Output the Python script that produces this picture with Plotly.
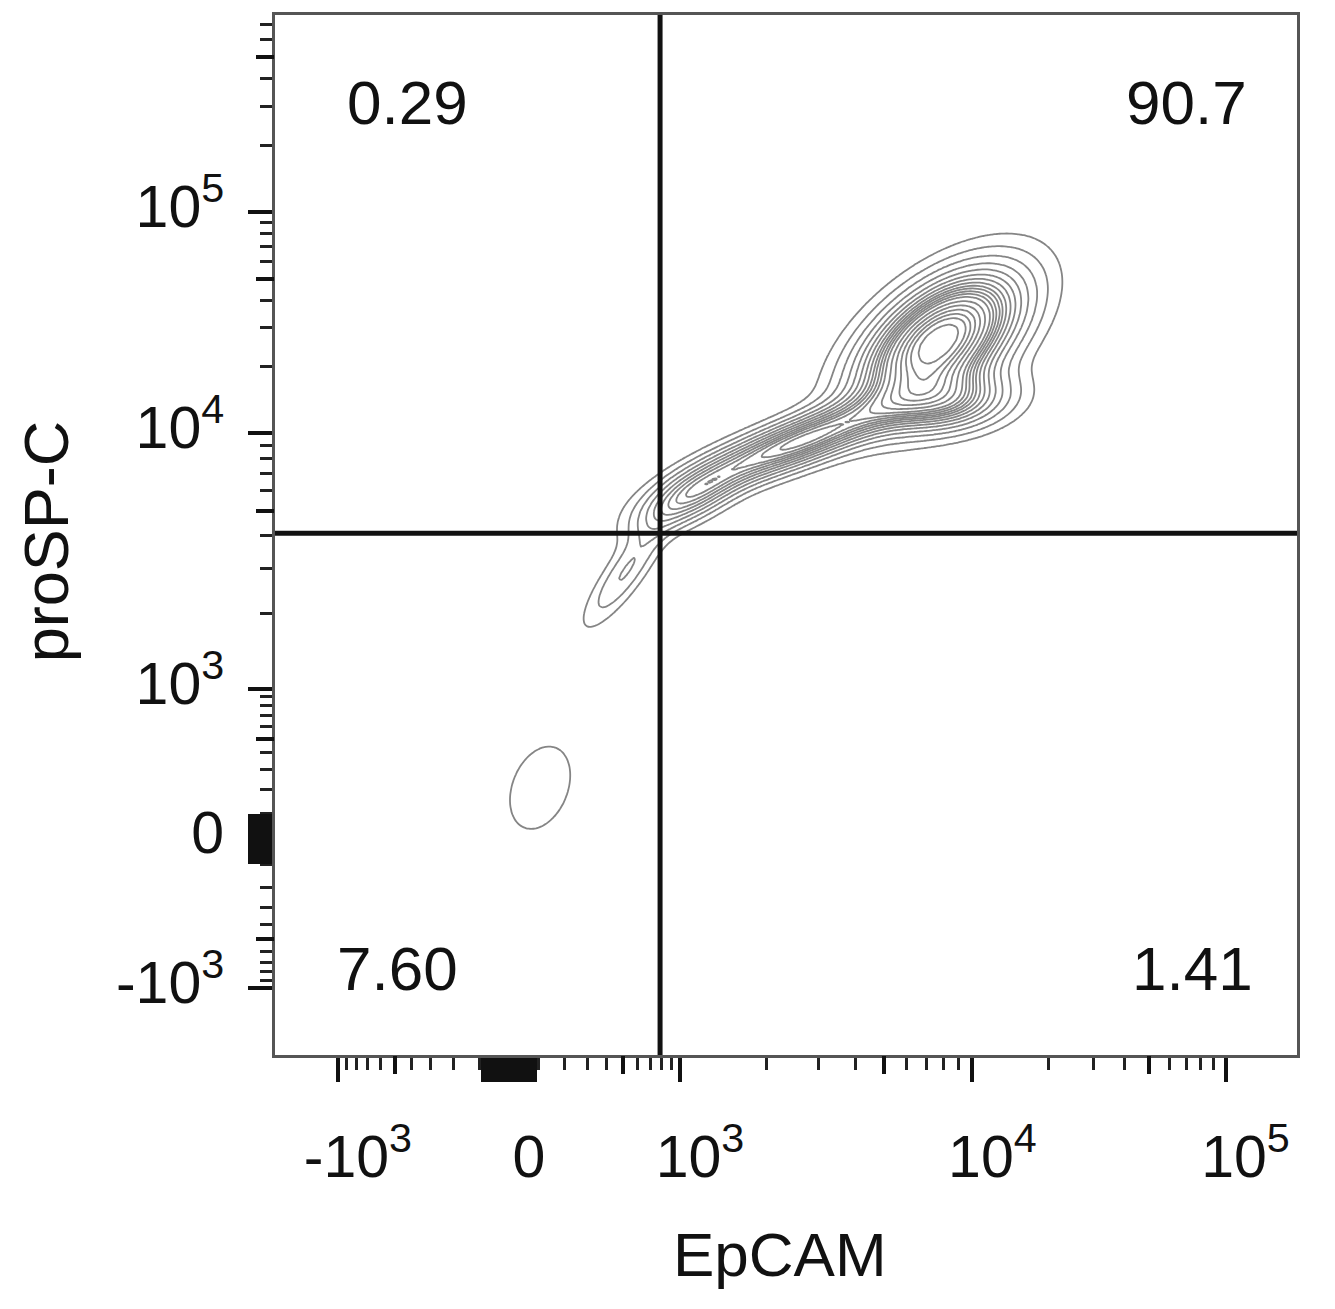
import numpy as np
import plotly.graph_objects as go

# biexponential display scale (asinh core, calibrated at the decade ticks)
SCALE_VALS = np.array([-1e3, 0, 1e3, 1e4, 1e5, 1e6])
SCALE_POS = np.array([-1.0, 0.0, 1.0, 2.71, 4.19, 5.67])
LIN_WIDTH = 300.0


def biex(v):
    v = np.asarray(v, dtype=float)
    return np.interp(np.arcsinh(v / LIN_WIDTH), np.arcsinh(SCALE_VALS / LIN_WIDTH), SCALE_POS)


# populations (centre in fluorescence units, spread in display units)
epcam_center = [7700, 8400, 2570, 1080, 513, 107]
prospc_center = [26000, 13900, 9260, 5650, 2890, 210]
spread_x = [0.29, 0.23, 0.40, 0.20, 0.16, 0.16]
spread_y = [0.29, 0.13, 0.20, 0.15, 0.24, 0.25]
corr = [0.55, 0.2, 0.85, 0.7, 0.85, 0.3]
weight = [0.60, 0.10, 0.20, 0.06, 0.025, 0.027]

# quadrant gate and frequencies
epcam_gate = 790
prospc_gate = 4100
quad_labels = ["0.29", "90.7", "7.60", "1.41"]

major_vals = [-1e3, 0, 1e3, 1e4, 1e5]
major_text = ["-10<sup>3</sup>", "0", "10<sup>3</sup>", "10<sup>4</sup>", "10<sup>5</sup>"]
near_zero = [s * k for s in (-1, 1) for k in range(10, 100, 10)]
mid_vals = [-500, 500, 5e3, 5e4, 5e5]
minor_vals = ([s * k for s in (-1, 1) for k in range(100, 1000, 100) if k != 500]
              + [k * 1e3 for k in range(2, 10) if k != 5]
              + [k * 1e4 for k in range(2, 10) if k != 5]
              + [k * 1e5 for k in range(2, 10) if k != 5])

x_range = [-1.368, 4.608]
y_range = [-1.447, 5.507]

gx = np.linspace(x_range[0], x_range[1], 420)
gy = np.linspace(y_range[0], y_range[1], 420)
X, Y = np.meshgrid(gx, gy)
dens = np.zeros_like(X)
for mx, my, sx, sy, r, w in zip(biex(epcam_center), biex(prospc_center), spread_x, spread_y, corr, weight):
    u = (X - mx) / sx
    v = (Y - my) / sy
    q = (u * u - 2 * r * u * v + v * v) / (1 - r * r)
    dens += w / (2 * np.pi * sx * sy * np.sqrt(1 - r * r)) * np.exp(-q / 2)

# probability contours: fraction of events inside each level
flat = dens.ravel()
order = np.argsort(-flat)
enclosed = np.empty_like(flat)
enclosed[order] = np.cumsum(flat[order]) / flat.sum()
Z = enclosed.reshape(dens.shape)

fig = go.Figure()
fig.add_trace(go.Contour(
    x=gx, y=gy, z=Z,
    contours=dict(coloring="lines", start=0.05, end=0.95, size=0.05),
    colorscale=[[0, "#858585"], [1, "#858585"]],
    line=dict(width=1.8),
    showscale=False,
    hoverinfo="skip",
))
fig.add_trace(go.Scatter(x=[None], y=[None], xaxis="x2", yaxis="y2", showlegend=False, hoverinfo="skip"))

gx0 = float(biex(epcam_gate))
gy0 = float(biex(prospc_gate))
fig.add_shape(type="line", x0=gx0, x1=gx0, y0=y_range[0], y1=y_range[1], line=dict(color="#111", width=5))
fig.add_shape(type="line", x0=x_range[0], x1=x_range[1], y0=gy0, y1=gy0, line=dict(color="#111", width=5))

quad_pos = [(0.130, 0.916), (0.892, 0.916), (0.120, 0.083), (0.898, 0.083)]
for txt, (px, py) in zip(quad_labels, quad_pos):
    fig.add_annotation(x=px, y=py, xref="paper", yref="paper", text=txt, showarrow=False,
                       xanchor="center", yanchor="middle", font=dict(size=62, color="#111"))

# axis titles
fig.add_annotation(x=0.494, y=-0.192, xref="paper", yref="paper", text="EpCAM", showarrow=False,
                   xanchor="center", yanchor="middle", font=dict(size=62, color="#111"))
fig.add_annotation(x=-0.224, y=0.494, xref="paper", yref="paper", text="proSP-C", showarrow=False,
                   textangle=-90, xanchor="center", yanchor="middle", font=dict(size=63, color="#111"))

font = "Liberation Sans, Arial, sans-serif"
axis_common = dict(
    showgrid=False, zeroline=False, showline=True, linecolor="#555", linewidth=3, mirror=True,
    ticks="outside", ticklen=24, tickwidth=4, tickcolor="#111",
    tickfont=dict(size=59, color="#111"),
    minor=dict(ticks="outside", ticklen=12, tickwidth=3, tickcolor="#222", showgrid=False),
)

fig.update_layout(
    width=1335, height=1309,
    margin=dict(l=267, r=46, t=4, b=262),
    paper_bgcolor="white", plot_bgcolor="white",
    font=dict(family=font, color="#111"),
    showlegend=False,
    xaxis=dict(axis_common, range=x_range,
               tickvals=list(biex(major_vals)) + list(biex(near_zero)),
               ticktext=major_text + [""] * len(near_zero),
               minor=dict(axis_common["minor"], tickvals=list(biex(minor_vals))),
               ticklabelstandoff=24, ticklabelshift=20),
    yaxis=dict(axis_common, range=y_range,
               tickvals=list(biex(major_vals)) + list(biex(near_zero)),
               ticktext=major_text + [""] * len(near_zero),
               minor=dict(axis_common["minor"], tickvals=list(biex(minor_vals))),
               ticklabelstandoff=12, ticklabelshift=-6),
    xaxis2=dict(overlaying="x", anchor="y", side="bottom", range=x_range, showgrid=False,
                zeroline=False, showline=False, showticklabels=False,
                tickvals=list(biex(mid_vals)), ticks="outside", ticklen=18, tickwidth=4, tickcolor="#111"),
    yaxis2=dict(overlaying="y", anchor="x", side="left", range=y_range, showgrid=False,
                zeroline=False, showline=False, showticklabels=False,
                tickvals=list(biex(mid_vals)), ticks="outside", ticklen=18, tickwidth=4, tickcolor="#111"),
)

fig.write_html("out.html")
